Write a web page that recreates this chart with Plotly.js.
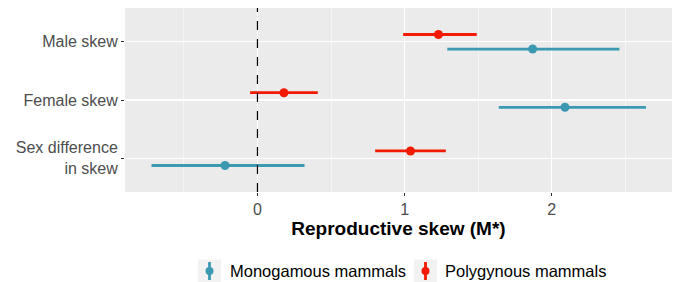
<!DOCTYPE html>
<html>
<head>
<meta charset="utf-8">
<script src="https://cdn.plot.ly/plotly-3.0.1.min.js"></script>
<style>html,body{margin:0;padding:0;background:#fff;}#chart{width:677px;height:282px;}</style>
</head>
<body>
<div id="chart"></div>
<script>
const categories = ["Male skew", "Female skew", "Sex difference<br>in skew"];
const seriesNames = ["Monogamous mammals", "Polygynous mammals"];
const monoEst = [1.87, 2.09, -0.22];
const monoLo = [1.29, 1.64, -0.72];
const monoHi = [2.46, 2.64, 0.32];
const polyEst = [1.23, 0.18, 1.04];
const polyLo = [0.99, -0.05, 0.80];
const polyHi = [1.49, 0.41, 1.28];
const xTicks = [0, 1, 2];

const colMono = "#3B9AB2";
const colPoly = "#F21A00";
const font = "Liberation Sans, Arial, Helvetica, sans-serif";

function mk(name, est, lo, hi, color, off) {
  return {
    type: "scatter", mode: "markers", name: name, showlegend: false,
    x: est,
    y: est.map((_, i) => i + off),
    marker: {color: color, size: 9},
    error_x: {
      type: "data", symmetric: false,
      array: est.map((v, i) => hi[i] - v),
      arrayminus: est.map((v, i) => v - lo[i]),
      color: color, thickness: 2.8, width: 0
    },
    hoverinfo: "x+y"
  };
}

const traces = [
  mk(seriesNames[0], monoEst, monoLo, monoHi, colMono, 0.125),
  mk(seriesNames[1], polyEst, polyLo, polyHi, colPoly, -0.125)
];

// legend drawn manually (pixel -> paper conversion)
const L = 125, R = 672, T = 8, B = 192;
const px = x => (x - L) / (R - L);
const py = y => (B - y) / (B - T);
const shapes = [
  {type: "line", xref: "x", yref: "paper", x0: 0, x1: 0, y0: 0, y1: 1,
   line: {color: "#000", width: 1.2, dash: "dash"}}
];
const annotations = [];
const legendItems = [
  {key: 198, text: 228, color: colMono, name: seriesNames[0]},
  {key: 414, text: 443, color: colPoly, name: seriesNames[1]}
];
const cy = 271;
legendItems.forEach(it => {
  shapes.push({type: "rect", xref: "paper", yref: "paper",
    x0: px(it.key), x1: px(it.key + 23), y0: py(cy + 11.5), y1: py(cy - 11.5),
    fillcolor: "#F2F2F2", line: {width: 0}, layer: "above"});
  shapes.push({type: "line", xref: "paper", yref: "paper",
    x0: px(it.key + 11.5), x1: px(it.key + 11.5), y0: py(cy + 9), y1: py(cy - 9),
    line: {color: it.color, width: 2.8}, layer: "above"});
  shapes.push({type: "circle", xref: "paper", yref: "paper",
    x0: px(it.key + 11.5 - 4), x1: px(it.key + 11.5 + 4), y0: py(cy + 4), y1: py(cy - 4),
    fillcolor: it.color, line: {width: 0}, layer: "above"});
  annotations.push({xref: "paper", yref: "paper", x: px(it.text), y: py(cy),
    xanchor: "left", yanchor: "middle", showarrow: false, text: it.name,
    font: {family: font, size: 16.5, color: "#000"}});
});

const layout = {
  width: 677, height: 282,
  margin: {l: L, r: 677 - R, t: T, b: 282 - B},
  paper_bgcolor: "#fff", plot_bgcolor: "#EBEBEB",
  showlegend: false,
  font: {family: font},
  xaxis: {
    range: [-0.9, 2.817], tickvals: xTicks, ticktext: xTicks.map(String),
    showgrid: true, gridcolor: "#fff", gridwidth: 1.1, zeroline: false,
    minor: {dtick: 0.5, tick0: 0, showgrid: true, gridcolor: "#fff", gridwidth: 0.5},
    ticks: "outside", ticklen: 3, tickcolor: "#333", tickwidth: 1,
    tickfont: {family: font, size: 16, color: "#4D4D4D"},
    showline: false, fixedrange: true,
    title: {text: "<b>Reproductive skew (M*)</b>", font: {family: font, size: 19, color: "#000"}, standoff: 3}
  },
  yaxis: {
    range: [2.58, -0.58],
    tickvals: categories.map((_, i) => i), ticktext: categories,
    showgrid: true, gridcolor: "#fff", gridwidth: 1.1, zeroline: false,
    ticks: "outside", ticklen: 3, tickcolor: "#333", tickwidth: 1,
    tickfont: {family: font, size: 16, color: "#4D4D4D"},
    showline: false, fixedrange: true
  },
  shapes: shapes,
  annotations: annotations
};

Plotly.newPlot("chart", traces, layout, {displayModeBar: false, staticPlot: true});
</script>
</body>
</html>
